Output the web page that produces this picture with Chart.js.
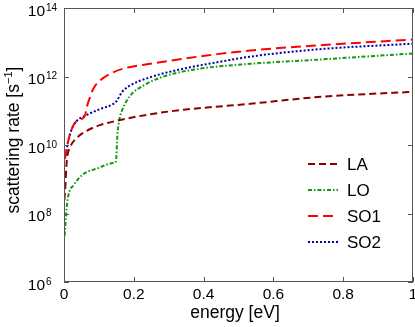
<!DOCTYPE html>
<html>
<head>
<meta charset="utf-8">
<script src="https://cdn.jsdelivr.net/npm/chart.js@4.4.0/dist/chart.umd.min.js"></script>
<style>
html, body { margin: 0; padding: 0; background: #fff; }
</style>
</head>
<body>
<canvas id="rateChart" width="415" height="327"></canvas>
<script>
const xTicks = [0, 0.2, 0.4, 0.6, 0.8, 1];
const xTickLabels = ["0", "0.2", "0.4", "0.6", "0.8", "1"];
const yTicks = [1e6, 1e8, 1e10, 1e12, 1e14];
const yTickExps = ["6", "8", "10", "12", "14"];

const seriesNames = ["LA", "LO", "SO1", "SO2"];

const energyLA = [0.001, 0.003, 0.008, 0.017, 0.036, 0.065, 0.103, 0.151, 0.247, 0.343, 0.534, 0.726, 0.985, 1.0];
const rateLA = [2.5e8, 4.5e8, 3.5e9, 8.3e9, 1.6e10, 2.6e10, 3.8e10, 5.1e10, 7.9e10, 1.07e11, 1.6e11, 2.5e11, 3.5e11, 3.55e11];

const energyLO = [0.002, 0.006, 0.012, 0.027, 0.055, 0.094, 0.142, 0.149, 0.153, 0.158, 0.166, 0.19, 0.228, 0.295, 0.391, 0.534, 0.726, 1.0];
const rateLO = [2.3e7, 9.3e7, 3.2e8, 6.6e8, 1.4e9, 2.05e9, 3.0e9, 3.4e9, 2.0e10, 5.0e10, 1.0e11, 2.75e11, 5.5e11, 1.07e12, 1.7e12, 2.35e12, 3.1e12, 4.7e12];

const energySO1 = [0.0, 0.003, 0.012, 0.022, 0.036, 0.06, 0.065, 0.072, 0.084, 0.103, 0.132, 0.17, 0.247, 0.342, 0.439, 0.534, 0.726, 1.0];
const rateSO1 = [4.0e9, 4.3e9, 1.3e10, 2.9e10, 5.0e10, 7.1e10, 1.25e11, 2.1e11, 4.4e11, 7.6e11, 1.2e12, 1.7e12, 2.35e12, 3.3e12, 4.5e12, 5.75e12, 8.1e12, 1.2e13];

const energySO2 = [0.0, 0.003, 0.012, 0.022, 0.036, 0.06, 0.103, 0.142, 0.151, 0.166, 0.19, 0.247, 0.343, 0.439, 0.534, 0.726, 1.0];
const rateSO2 = [4.0e9, 4.3e9, 1.3e10, 2.9e10, 5.0e10, 7.1e10, 1.12e11, 1.6e11, 1.95e11, 3.5e11, 5.5e11, 9.5e11, 1.7e12, 2.6e12, 3.8e12, 6.2e12, 9.1e12];

function toPoints(xs, ys) {
    return xs.map((x, i) => ({ x: x, y: ys[i] }));
}

const FONT = '"Liberation Sans", Arial, Helvetica, sans-serif';

// box, inner ticks, tick labels, axis titles and legend in the matlab look
const figureDecor = {
    id: "figureDecor",
    afterDraw(chart) {
        const ctx = chart.ctx;
        const a = chart.chartArea;
        const xs = chart.scales.x;
        const ys = chart.scales.y;
        ctx.save();

        ctx.strokeStyle = "#555";
        ctx.lineWidth = 1;
        ctx.setLineDash([]);
        ctx.strokeRect(a.left + 0.5, a.top + 0.5, a.right - a.left - 1, a.bottom - a.top - 1);

        ctx.beginPath();
        xTicks.forEach(v => {
            const px = Math.round(xs.getPixelForValue(v)) + 0.5;
            ctx.moveTo(px, a.bottom); ctx.lineTo(px, a.bottom - 5);
            ctx.moveTo(px, a.top); ctx.lineTo(px, a.top + 5);
        });
        yTicks.forEach(v => {
            const py = Math.round(ys.getPixelForValue(v)) + 0.5;
            ctx.moveTo(a.left, py); ctx.lineTo(a.left + 5, py);
            ctx.moveTo(a.right, py); ctx.lineTo(a.right - 5, py);
        });
        ctx.stroke();

        ctx.fillStyle = "#000";
        ctx.font = "15.5px " + FONT;
        ctx.textAlign = "center";
        ctx.textBaseline = "alphabetic";
        xTicks.forEach((v, i) => {
            ctx.fillText(xTickLabels[i], xs.getPixelForValue(v), 299);
        });

        yTicks.forEach((v, i) => {
            const py = ys.getPixelForValue(v);
            ctx.font = "15.5px " + FONT;
            ctx.textAlign = "right";
            ctx.fillText("10", 45, py + 7.5);
            ctx.font = "10px " + FONT;
            ctx.textAlign = "left";
            ctx.fillText(yTickExps[i], 46, py + 2.5);
        });

        ctx.font = "17.5px " + FONT;
        ctx.textAlign = "center";
        ctx.fillText("energy [eV]", 235, 318);

        // y title with superscript
        ctx.translate(18.5, 140);
        ctx.rotate(-Math.PI / 2);
        const big = "17.5px " + FONT, small = "11px " + FONT;
        const p1 = "scattering rate [s", p2 = "\u22121", p3 = "]";
        ctx.font = big; const w1 = ctx.measureText(p1).width, w3 = ctx.measureText(p3).width;
        ctx.font = small; const w2 = ctx.measureText(p2).width;
        let x0 = -(w1 + w2 + w3) / 2;
        ctx.textAlign = "left";
        ctx.font = big; ctx.fillText(p1, x0, 0);
        ctx.font = small; ctx.fillText(p2, x0 + w1, -6.5);
        ctx.font = big; ctx.fillText(p3, x0 + w1 + w2, 0);
        ctx.setTransform(1, 0, 0, 1, 0, 0);

        // legend
        chart.data.datasets.forEach((ds, i) => {
            const y = 164 + i * 26;
            ctx.strokeStyle = ds.borderColor;
            ctx.lineWidth = ds.borderWidth;
            ctx.setLineDash(ds.borderDash || []);
            ctx.beginPath();
            ctx.moveTo(308, y); ctx.lineTo(338, y);
            ctx.stroke();
            ctx.setLineDash([]);
            ctx.fillStyle = "#000";
            ctx.font = "17px " + FONT;
            ctx.textAlign = "left";
            ctx.fillText(ds.label, 347, y + 6);
        });
        ctx.restore();
    }
};

new Chart(document.getElementById("rateChart"), {
    type: "line",
    data: {
        datasets: [
            { label: seriesNames[0], data: toPoints(energyLA, rateLA), borderColor: "#8b0000", borderDash: [7, 4] },
            { label: seriesNames[1], data: toPoints(energyLO, rateLO), borderColor: "#109a10", borderDash: [4, 2, 1.5, 2] },
            { label: seriesNames[2], data: toPoints(energySO1, rateSO1), borderColor: "#ff0000", borderDash: [10, 5] },
            { label: seriesNames[3], data: toPoints(energySO2, rateSO2), borderColor: "#00009c", borderDash: [2, 2] }
        ].map(d => Object.assign(d, {
            borderWidth: 2,
            pointRadius: 0,
            fill: false,
            cubicInterpolationMode: "monotone"
        }))
    },
    options: {
        responsive: false,
        animation: false,
        devicePixelRatio: 1,
        layout: { padding: { left: 64, right: 2, top: 8, bottom: 45 } },
        plugins: {
            legend: { display: false },
            tooltip: { enabled: false }
        },
        scales: {
            x: {
                type: "linear",
                min: 0, max: 1,
                ticks: { display: false },
                grid: { display: false, drawTicks: false },
                border: { display: false }
            },
            y: {
                type: "logarithmic",
                min: 1e6, max: 1e14,
                ticks: { display: false },
                grid: { display: false, drawTicks: false },
                border: { display: false }
            }
        }
    },
    plugins: [figureDecor]
});
</script>
</body>
</html>
